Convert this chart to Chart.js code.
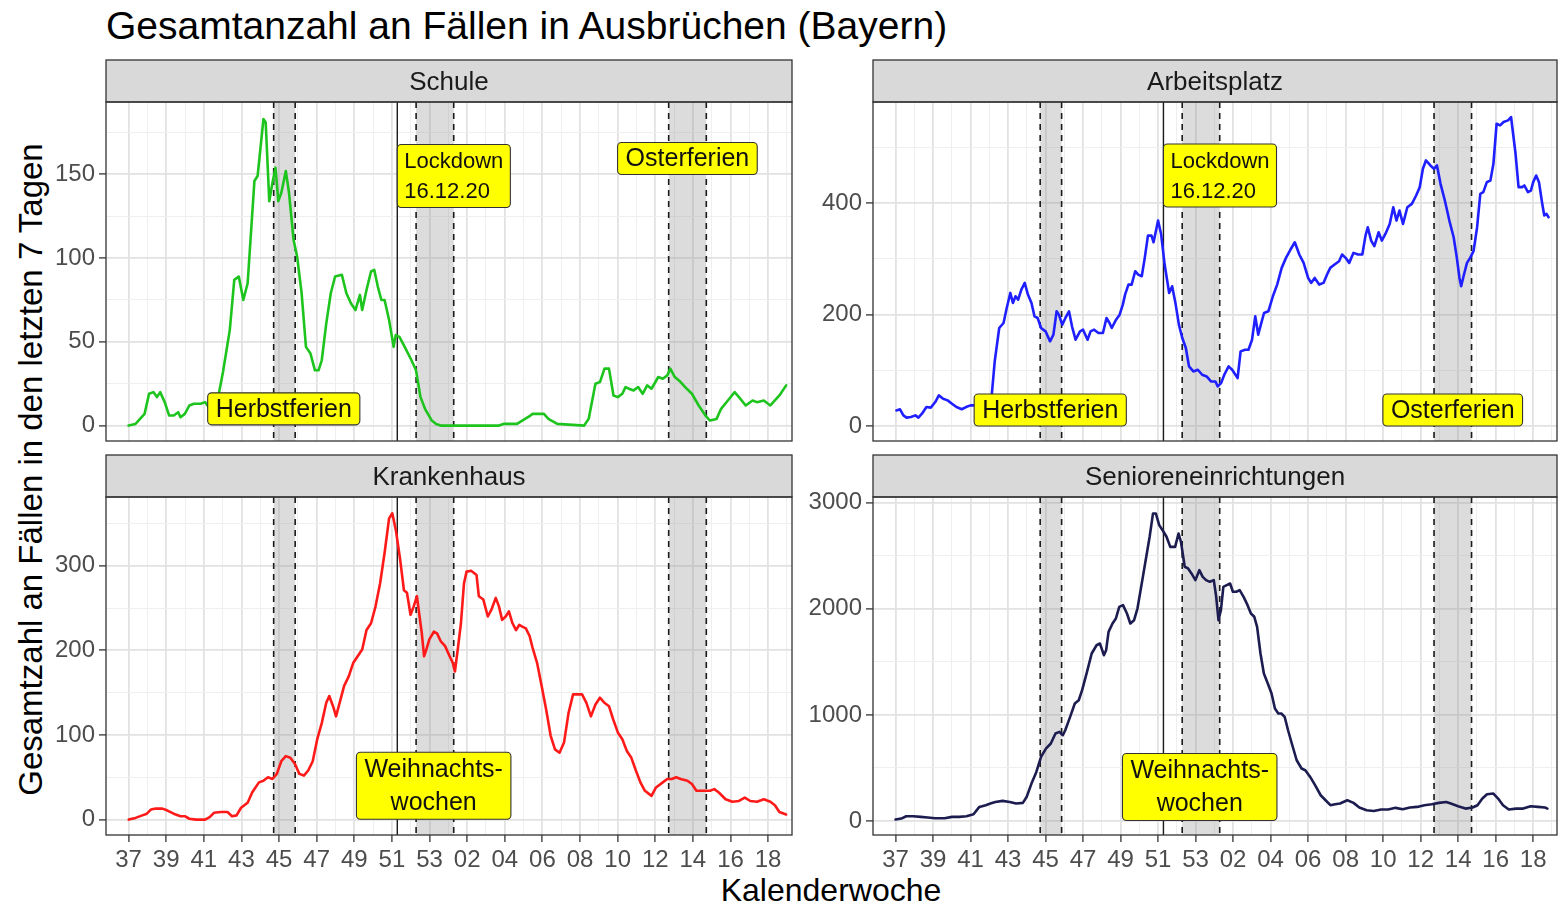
<!DOCTYPE html>
<html><head><meta charset="utf-8">
<script src="https://cdn.jsdelivr.net/npm/chart.js@4.4.1/dist/chart.umd.min.js"></script>
<style>
html,body{margin:0;padding:0;background:#fff;}
#wrap{position:relative;width:1560px;height:905px;overflow:hidden;font-family:"Liberation Sans",Arial,sans-serif;}
canvas{position:absolute;}
.t{position:absolute;white-space:nowrap;color:#000;}
</style></head><body>
<div id="wrap">
<div class="t" style="left:106px;top:6px;font-size:39px;line-height:39px;">Gesamtanzahl an Fällen in Ausbrüchen (Bayern)</div>
<div class="t" style="left:-370px;top:453px;width:800px;height:33px;line-height:33px;font-size:33px;text-align:center;transform:rotate(-90deg);">Gesamtzahl an Fällen in den letzten 7 Tagen</div>
<div class="t" style="left:431px;top:874px;width:800px;line-height:32px;font-size:32px;text-align:center;">Kalenderwoche</div>
<canvas id="c1"></canvas><canvas id="c2"></canvas><canvas id="c3"></canvas><canvas id="c4"></canvas>
</div>
<script>
// ---- data ----
const weekLabels = ['37','39','41','43','45','47','49','51','53','02','04','06','08','10','12','14','16','18'];
const holidayWeeks = [[7.714, 8.857], [15.286, 17.286], [28.714, 30.714]];
const lockdownWeek = 14.286;

const schuleWeek = [0,0.37,0.85,1.09,1.32,1.51,1.68,1.92,2.16,2.4,
2.64,2.76,2.99,3.23,3.47,3.83,4.07,4.31,4.54,4.71,
5.02,5.38,5.62,5.86,6.1,6.33,6.69,6.86,7.17,7.29,
7.48,7.65,7.81,7.96,8.12,8.36,8.53,8.77,8.96,9.2,
9.43,9.67,9.91,10.1,10.27,10.51,10.75,10.98,11.34,11.58,
11.82,12.06,12.3,12.42,12.65,12.89,13.06,13.25,13.44,13.61,
13.85,14.09,14.2,14.4,14.68,15.04,15.28,15.52,15.76,16.12,
16.35,16.59,17.31,19.69,19.93,20.65,21.36,21.48,22.08,22.32,
22.79,24.22,24.46,24.82,25.06,25.3,25.54,25.78,26.01,26.25,
26.42,26.61,26.85,27.09,27.33,27.57,27.8,28.16,28.4,28.64,
28.8,29.04,29.35,29.59,29.95,30.31,30.67,30.91,31.26,31.5,
31.86,32.22,32.45,32.81,33.17,33.41,33.77,34.12,34.36,34.6,
34.96];
const schuleValue = [0,1,7,19,20,17,20,14,6,6,
8,5,7,12,13,13,14,10,13,14,
32,57,87,89,75,85,146,149,183,181,
134,145,154,134,139,152,139,111,101,79,
47,43,33,33,39,61,79,89,90,79,
73,69,78,69,81,92,93,83,75,75,
63,47,54,53,47,39,33,17,10,3,
1,0,0,0,1,1,6,7,7,4,
1,0,4,25,26,34,34,18,17,19,
23,22,21,23,19,24,22,29,28,30,
34,29,26,23,19,12,6,3,4,10,
15,20,17,12,15,14,15,12,15,18,
24];

const arbeitWeek = [0.05,0.24,0.42,0.59,0.82,1.06,1.22,1.41,1.65,1.88,
2.12,2.31,2.54,2.78,3.01,3.25,3.53,3.76,4.0,4.24,
4.6,4.9,5.13,5.29,5.53,5.76,5.93,6.12,6.26,6.4,
6.54,6.71,6.89,7.06,7.25,7.41,7.58,7.76,8.0,8.24,
8.42,8.59,8.71,8.89,9.06,9.25,9.41,9.6,9.84,10.0,
10.24,10.4,10.59,10.82,11.06,11.25,11.41,11.53,11.76,11.95,
12.12,12.24,12.42,12.59,12.78,12.94,13.13,13.29,13.46,13.65,
13.76,14.0,14.16,14.35,14.59,14.75,14.94,15.11,15.29,15.48,
15.65,15.88,16.12,16.35,16.59,16.82,17.06,17.18,17.36,17.53,
17.76,17.95,18.24,18.4,18.64,18.82,19.01,19.18,19.34,19.48,
19.65,19.88,20.12,20.35,20.59,20.82,21.06,21.29,21.53,21.76,
22.0,22.16,22.35,22.59,22.82,23.01,23.18,23.41,23.65,23.81,
24.0,24.19,24.42,24.66,24.89,25.06,25.18,25.36,25.53,25.76,
25.93,26.12,26.35,26.54,26.71,26.87,27.06,27.29,27.53,27.76,
27.95,28.12,28.28,28.52,28.71,28.87,29.06,29.29,29.53,29.76,
29.93,30.07,30.16,30.31,30.47,30.64,30.82,31.01,31.18,31.34,
31.53,31.72,31.88,32.05,32.24,32.42,32.66,32.82,33.06,33.22,
33.41,33.53,33.72,33.88,34.0,34.16,34.31,34.47,34.59,34.71,
34.82];
const arbeitValue = [28,30,19,15,16,19,15,22,34,33,
43,55,49,46,40,34,30,34,37,37,
40,45,55,116,176,185,212,239,221,233,
227,245,257,236,221,197,194,176,170,152,
164,206,200,182,194,206,179,155,170,173,
155,170,173,167,167,194,185,176,191,200,
218,236,254,254,278,272,269,302,342,342,
330,369,345,290,239,251,218,182,158,140,
107,98,101,92,89,80,80,71,77,92,
107,101,86,134,137,137,155,197,164,182,
203,206,233,254,284,302,317,330,308,293,
266,257,266,254,257,272,284,290,296,308,
302,293,311,308,308,342,357,333,323,348,
333,345,363,393,369,387,363,393,399,414,
429,462,477,468,462,468,435,405,369,339,
302,266,251,272,293,302,314,357,417,420,
438,441,471,543,540,546,549,555,489,429,
429,432,420,423,438,450,438,402,378,381,
375];

const krankWeek = [0.01,0.37,0.73,0.97,1.2,1.44,1.8,2.04,2.4,2.76,
2.99,3.23,3.59,4.07,4.31,4.54,4.9,5.26,5.5,5.74,
5.98,6.33,6.57,6.93,7.17,7.41,7.65,7.88,8.12,8.36,
8.6,8.84,9.08,9.32,9.55,9.79,10.03,10.27,10.51,10.67,
10.87,11.03,11.22,11.46,11.7,11.94,12.18,12.42,12.65,12.89,
13.13,13.37,13.61,13.85,14.02,14.21,14.44,14.64,14.8,14.99,
15.16,15.33,15.47,15.59,15.71,15.83,15.99,16.23,16.4,16.59,
16.83,17.07,17.24,17.35,17.5,17.67,17.83,17.97,18.21,18.5,
18.62,18.86,19.1,19.29,19.52,19.69,19.86,20.05,20.22,20.41,
20.6,20.77,20.93,21.12,21.32,21.48,21.72,21.96,22.2,22.44,
22.67,22.91,23.15,23.39,23.63,23.87,24.11,24.34,24.58,24.82,
25.06,25.3,25.54,25.77,26.01,26.25,26.49,26.73,26.97,27.21,
27.45,27.8,28.04,28.4,28.64,28.88,29.11,29.35,29.71,29.95,
30.19,30.55,30.91,31.14,31.38,31.74,32.1,32.45,32.76,33.05,
33.41,33.77,34.12,34.36,34.6,34.96];
const krankValue = [0,2,5,7,12,13,13,11,7,4,
4,1,0,0,3,8,9,9,4,5,
14,20,32,44,46,50,48,54,69,75,
73,66,54,52,58,69,95,114,138,146,
134,122,138,158,169,185,193,201,224,232,
252,279,315,356,362,342,307,271,268,242,
252,264,240,220,193,201,213,222,220,211,
205,193,185,175,201,232,279,293,294,289,
264,260,240,248,262,252,236,240,246,232,
224,230,228,226,217,203,185,158,130,99,
83,79,91,126,148,148,148,138,122,136,
144,138,134,118,103,95,81,73,58,44,
34,28,38,44,48,48,50,48,46,42,
34,34,34,36,32,24,21,22,26,22,
21,24,21,17,9,6];

const seniorWeek = [0,0.31,0.57,0.95,1.34,1.72,2.11,2.62,3.01,3.39,
3.78,4.16,4.47,4.81,5.06,5.32,5.71,6.09,6.43,6.79,
6.99,7.25,7.51,7.76,8.02,8.28,8.53,8.74,8.92,9.05,
9.31,9.56,9.77,9.95,10.21,10.46,10.72,10.9,11.11,11.23,
11.36,11.57,11.75,11.93,12.13,12.34,12.52,12.72,12.9,13.16,
13.37,13.55,13.73,13.88,14.06,14.24,14.45,14.65,14.91,15.09,
15.22,15.42,15.6,15.78,15.99,16.2,16.38,16.56,16.76,16.97,
17.1,17.22,17.35,17.48,17.66,17.84,17.99,18.17,18.35,18.56,
18.77,18.95,19.13,19.28,19.46,19.64,19.85,20.05,20.23,20.41,
20.57,20.75,20.93,21.13,21.39,21.65,21.85,22.11,22.37,22.67,
22.93,23.19,23.44,23.7,24.09,24.42,24.73,25.12,25.5,25.89,
26.27,26.66,27.04,27.43,27.81,28.2,28.59,28.97,29.36,29.61,
30.0,30.39,30.77,31.03,31.29,31.54,31.88,32.13,32.39,32.7,
33.08,33.47,33.86,34.25,34.63,34.76];
const seniorValue = [13,22,44,44,38,32,25,25,38,38,
44,63,132,148,164,179,189,179,164,170,
226,352,462,604,682,730,824,840,808,855,
981,1107,1138,1233,1406,1579,1657,1673,1563,1610,
1783,1862,1909,2019,2035,1956,1862,1893,2003,2271,
2491,2680,2900,2900,2790,2742,2680,2585,2585,2711,
2632,2397,2381,2334,2271,2365,2302,2271,2255,2271,
2113,1893,1988,2208,2224,2239,2161,2161,2176,2113,
2035,1956,1925,1830,1579,1390,1296,1201,1060,1013,
1013,981,855,730,572,494,478,415,337,242,
195,148,157,164,195,170,126,101,94,107,
107,123,110,126,132,148,157,170,179,164,
138,116,126,148,211,252,258,211,148,107,
116,116,138,132,126,116];

const schuleYTicks = [0,25,50,75,100,125,150,175];
const arbeitYTicks = [0,100,200,300,400,500];
const krankYTicks = [0,50,100,150,200,250,300,350];
const seniorYTicks = [0,500,1000,1500,2000,2500,3000];

// ---- drawing ----
const FONT = '"Liberation Sans", Arial, sans-serif';
const X_MIN = -1.2, X_MAX = 35.27;
const xTickVals = Array.from({length: 36}, (_, i) => i);

function roundRectPath(ctx, x, y, w, h, r) {
  ctx.beginPath();
  ctx.moveTo(x + r, y);
  ctx.lineTo(x + w - r, y); ctx.arcTo(x + w, y, x + w, y + r, r);
  ctx.lineTo(x + w, y + h - r); ctx.arcTo(x + w, y + h, x + w - r, y + h, r);
  ctx.lineTo(x + r, y + h); ctx.arcTo(x, y + h, x, y + h - r, r);
  ctx.lineTo(x, y + r); ctx.arcTo(x, y, x + r, y, r);
  ctx.closePath();
}

function makeChart(id, p) {
  const cv = document.getElementById(id);
  cv.width = p.w; cv.height = p.h;
  cv.style.left = p.left + 'px'; cv.style.top = p.top + 'px';
  const STRIP = 43;
  const deco = {
    id: 'deco_' + id,
    beforeDatasetsDraw(chart) {
      const {ctx, chartArea: a, scales: {x}} = chart;
      ctx.save();
      ctx.beginPath(); ctx.rect(a.left, a.top, a.right - a.left, a.bottom - a.top); ctx.clip();
      ctx.fillStyle = 'rgba(150,150,150,0.33)';
      holidayWeeks.forEach(([s, e]) => {
        const x1 = x.getPixelForValue(s), x2 = x.getPixelForValue(e);
        ctx.fillRect(x1, a.top, x2 - x1, a.bottom - a.top);
      });
      ctx.strokeStyle = '#1a1a1a'; ctx.lineWidth = 1.6; ctx.setLineDash([6, 5]);
      holidayWeeks.forEach(pair => pair.forEach(v => {
        const px = x.getPixelForValue(v);
        ctx.beginPath(); ctx.moveTo(px, a.top); ctx.lineTo(px, a.bottom); ctx.stroke();
      }));
      ctx.setLineDash([]); ctx.lineWidth = 1.4;
      const lx = x.getPixelForValue(lockdownWeek);
      ctx.beginPath(); ctx.moveTo(lx, a.top); ctx.lineTo(lx, a.bottom); ctx.stroke();
      ctx.restore();
    },
    afterDatasetsDraw(chart) {
      const {ctx, scales: {x, y}} = chart;
      ctx.save();
      p.labels.forEach(L => {
        const px = x.getPixelForValue(L.x), py = y.getPixelForValue(L.y);
        ctx.font = L.size + 'px ' + FONT;
        const w = Math.max(...L.text.map(t => ctx.measureText(t).width)) + 2 * L.padX;
        const h = L.text.length * L.lh + 2 * L.padY;
        const left = L.anchor === 'left' ? px : px - w / 2;
        const top = py - h / 2;
        roundRectPath(ctx, left, top, w, h, 4);
        ctx.fillStyle = '#ffff00'; ctx.fill();
        ctx.strokeStyle = '#333'; ctx.lineWidth = 1.1; ctx.stroke();
        ctx.fillStyle = '#111'; ctx.textBaseline = 'middle';
        ctx.textAlign = L.anchor === 'left' ? 'left' : 'center';
        L.text.forEach((t, i) => {
          const tx = L.anchor === 'left' ? left + L.padX : left + w / 2;
          ctx.fillText(t, tx, top + L.padY + L.lh * (i + 0.5) + 1);
        });
      });
      ctx.restore();
    },
    afterDraw(chart) {
      const {ctx, chartArea: a} = chart;
      ctx.save();
      ctx.fillStyle = '#d9d9d9';
      ctx.fillRect(a.left, 1, a.right - a.left, a.top - 1);
      ctx.strokeStyle = '#333'; ctx.lineWidth = 1.3;
      ctx.strokeRect(a.left, 1, a.right - a.left, a.top - 1);
      ctx.strokeRect(a.left, a.top, a.right - a.left, a.bottom - a.top);
      ctx.fillStyle = '#1a1a1a'; ctx.font = '26px ' + FONT;
      ctx.textAlign = 'center'; ctx.textBaseline = 'middle';
      ctx.fillText(p.name, (a.left + a.right) / 2, a.top / 2 + 2);
      ctx.restore();
    }
  };
  const data = p.weeks.map((w, i) => ({x: w, y: p.values[i]}));
  const MAJ = '#e2e2e2', MIN = '#efefef';
  return new Chart(cv, {
    type: 'line',
    data: {datasets: [{data, borderColor: p.color, borderWidth: 2.6, pointRadius: 0, fill: false,
      tension: 0, borderJoinStyle: 'round', borderCapStyle: 'round'}]},
    options: {
      responsive: false, animation: false, events: [],
      layout: {autoPadding: false, padding: {top: STRIP, right: 3, bottom: 0, left: 0}},
      plugins: {legend: {display: false}, tooltip: {enabled: false}, title: {display: false}},
      scales: {
        x: {
          type: 'linear', min: X_MIN, max: X_MAX, border: {display: false},
          afterBuildTicks: s => { s.ticks = xTickVals.map(v => ({value: v})); },
          afterFit: s => { s.height = p.showX ? 45 : 25; },
          grid: {
            color: c => (c.tick && c.tick.value % 2 === 0) ? MAJ : MIN,
            lineWidth: c => (c.tick && c.tick.value % 2 === 0) ? 1.8 : 1,
            drawTicks: p.showX, tickLength: 7, tickWidth: 1.3,
            tickColor: c => (c.tick && c.tick.value % 2 === 0) ? '#333' : 'rgba(0,0,0,0)'
          },
          ticks: {
            display: p.showX, autoSkip: false, maxRotation: 0, minRotation: 0, padding: 4,
            color: '#4d4d4d', font: {family: FONT, size: 24},
            callback: v => (v % 2 === 0) ? weekLabels[v / 2] : ''
          }
        },
        y: {
          type: 'linear', min: p.yMin, max: p.yMax, border: {display: false},
          afterBuildTicks: s => { s.ticks = p.yTicks.map(v => ({value: v})); },
          afterFit: s => { s.width = p.yAxisW; },
          grid: {
            color: c => (c.tick && c.tick.value % p.yMajor === 0) ? MAJ : MIN,
            lineWidth: c => (c.tick && c.tick.value % p.yMajor === 0) ? 1.8 : 1,
            tickLength: 7, tickWidth: 1.3,
            tickColor: c => (c.tick && c.tick.value % p.yMajor === 0) ? '#333' : 'rgba(0,0,0,0)'
          },
          ticks: {
            autoSkip: false, padding: 4, color: '#4d4d4d', font: {family: FONT, size: 24},
            callback: v => (v % p.yMajor === 0) ? String(v) : ''
          }
        }
      }
    },
    plugins: [deco]
  });
}

const lab = (x, y, text, extra) => Object.assign({x, y, text, size: 25, lh: 32, padX: 8, padY: 0, anchor: 'center'}, extra || {});
const lockLab = y => lab(lockdownWeek, y, ['Lockdown', '16.12.20'], {size: 22, lh: 30, padX: 7, padY: 1.5, anchor: 'left'});

makeChart('c1', {name: 'Schule', weeks: schuleWeek, values: schuleValue, color: '#1ec41e',
  left: 0, top: 59, w: 795, h: 407, yAxisW: 106, showX: false,
  yMin: -9.2, yMax: 193.2, yTicks: schuleYTicks, yMajor: 50,
  labels: [lab(8.25, 10, ['Herbstferien']), lockLab(149), lab(29.71, 159.5, ['Osterferien'])]});
makeChart('c2', {name: 'Arbeitsplatz', weeks: arbeitWeek, values: arbeitValue, color: '#1f1fff',
  left: 800, top: 59, w: 760, h: 407, yAxisW: 73, showX: false,
  yMin: -27, yMax: 582, yTicks: arbeitYTicks, yMajor: 200,
  labels: [lab(8.25, 28.8, ['Herbstferien']), lockLab(450), lab(29.71, 28.8, ['Osterferien'])]});
makeChart('c3', {name: 'Krankenhaus', weeks: krankWeek, values: krankValue, color: '#ff1a1a',
  left: 0, top: 454, w: 795, h: 426, yAxisW: 106, showX: true,
  yMin: -18.2, yMax: 381.2, yTicks: krankYTicks, yMajor: 100,
  labels: [lab(16.22, 40, ['Weihnachts-', 'wochen'], {lh: 33, padY: 0.5})]});
makeChart('c4', {name: 'Senioreneinrichtungen', weeks: seniorWeek, values: seniorValue, color: '#1c1c50',
  left: 800, top: 454, w: 760, h: 426, yAxisW: 73, showX: true,
  yMin: -133, yMax: 3055, yTicks: seniorYTicks, yMajor: 1000,
  labels: [lab(16.22, 320, ['Weihnachts-', 'wochen'], {lh: 33, padY: 0.5})]});
</script>
</body></html>
